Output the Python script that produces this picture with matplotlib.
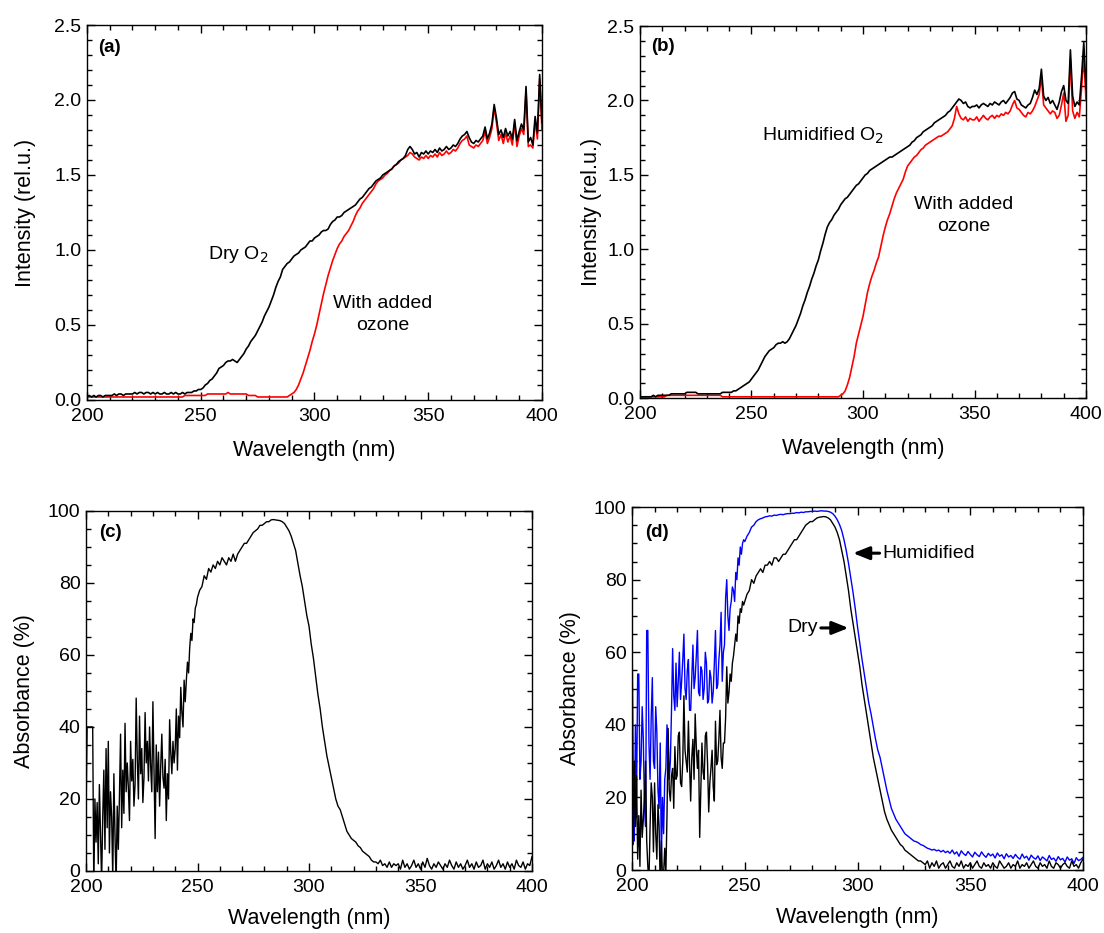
import numpy as np
import matplotlib
matplotlib.use("Agg")
import matplotlib.pyplot as plt
from matplotlib.ticker import MultipleLocator, FormatStrFormatter

plt.rcParams['font.family'] = ['Liberation Sans', 'DejaVu Sans']

# Wavelength grids (nm)
wavelength = np.arange(200, 401)            # 1 nm step, intensity spectra
wl_short = np.arange(200, 250, 0.5)         # 0.5 nm step, noisy deep-UV part
wl_long = np.arange(250, 401)               # 1 nm step, rest of absorbance
wl_abs = np.concatenate([wl_short, wl_long])

# (a) lamp spectrum through dry O2, without and with ozone
dry_o2 = [
    0.02, 0.03, 0.02, 0.03, 0.02, 0.03, 0.03, 0.02, 0.03, 0.03,
    0.03, 0.03, 0.04, 0.03, 0.04, 0.04, 0.03, 0.04, 0.04, 0.04,
    0.04, 0.05, 0.04, 0.05, 0.05, 0.04, 0.05, 0.05, 0.04, 0.05,
    0.04, 0.05, 0.04, 0.04, 0.05, 0.04, 0.04, 0.05, 0.04, 0.05,
    0.04, 0.04, 0.05, 0.04, 0.05, 0.05, 0.05, 0.06, 0.06, 0.07,
    0.07, 0.08, 0.10, 0.11, 0.13, 0.14, 0.16, 0.18, 0.21, 0.22,
    0.23, 0.25, 0.26, 0.26, 0.27, 0.26, 0.25, 0.27, 0.29, 0.31,
    0.34, 0.36, 0.39, 0.41, 0.43, 0.46, 0.49, 0.52, 0.56, 0.59,
    0.62, 0.66, 0.70, 0.75, 0.79, 0.82, 0.87, 0.89, 0.91, 0.92,
    0.94, 0.96, 0.97, 0.98, 1.00, 1.01, 1.02, 1.04, 1.06, 1.06,
    1.08, 1.09, 1.10, 1.12, 1.13, 1.13, 1.14, 1.17, 1.19, 1.20,
    1.22, 1.22, 1.23, 1.25, 1.26, 1.27, 1.28, 1.29, 1.30, 1.32,
    1.34, 1.35, 1.37, 1.39, 1.41, 1.42, 1.44, 1.46, 1.47, 1.48,
    1.50, 1.51, 1.52, 1.53, 1.54, 1.56, 1.57, 1.59, 1.60, 1.61,
    1.63, 1.67, 1.69, 1.67, 1.64, 1.65, 1.62, 1.65, 1.64, 1.66,
    1.64, 1.66, 1.65, 1.67, 1.65, 1.68, 1.66, 1.67, 1.69, 1.67,
    1.68, 1.70, 1.69, 1.71, 1.74, 1.76, 1.77, 1.79, 1.75, 1.72,
    1.71, 1.73, 1.72, 1.74, 1.76, 1.82, 1.74, 1.78, 1.84, 1.97,
    1.88, 1.77, 1.80, 1.75, 1.81, 1.76, 1.79, 1.74, 1.87, 1.73,
    1.79, 1.84, 1.80, 2.09, 1.72, 1.75, 1.70, 1.89, 1.78, 2.17,
    1.85,
]
dry_o2_ozone = [
    0.02, 0.02, 0.02, 0.02, 0.02, 0.02, 0.02, 0.02, 0.02, 0.02,
    0.02, 0.02, 0.02, 0.02, 0.02, 0.02, 0.02, 0.02, 0.02, 0.02,
    0.02, 0.02, 0.02, 0.02, 0.02, 0.02, 0.02, 0.02, 0.02, 0.02,
    0.02, 0.02, 0.02, 0.02, 0.02, 0.02, 0.02, 0.02, 0.02, 0.02,
    0.02, 0.02, 0.02, 0.03, 0.03, 0.03, 0.03, 0.03, 0.03, 0.03,
    0.03, 0.03, 0.03, 0.04, 0.04, 0.04, 0.04, 0.04, 0.04, 0.04,
    0.04, 0.04, 0.05, 0.04, 0.04, 0.04, 0.04, 0.04, 0.04, 0.04,
    0.04, 0.03, 0.03, 0.03, 0.03, 0.02, 0.02, 0.02, 0.02, 0.02,
    0.02, 0.02, 0.02, 0.02, 0.02, 0.02, 0.02, 0.02, 0.02, 0.03,
    0.04, 0.05, 0.07, 0.10, 0.14, 0.18, 0.23, 0.28, 0.33, 0.39,
    0.44, 0.50, 0.57, 0.64, 0.71, 0.77, 0.83, 0.88, 0.93, 0.97,
    1.01, 1.04, 1.06, 1.09, 1.11, 1.13, 1.16, 1.19, 1.23, 1.26,
    1.28, 1.31, 1.33, 1.35, 1.37, 1.39, 1.41, 1.44, 1.46, 1.47,
    1.48, 1.50, 1.51, 1.53, 1.54, 1.56, 1.57, 1.58, 1.60, 1.61,
    1.62, 1.63, 1.65, 1.64, 1.62, 1.61, 1.60, 1.62, 1.61, 1.63,
    1.61, 1.63, 1.62, 1.64, 1.62, 1.65, 1.63, 1.64, 1.66, 1.64,
    1.65, 1.67, 1.66, 1.68, 1.71, 1.73, 1.74, 1.76, 1.70, 1.69,
    1.68, 1.70, 1.69, 1.71, 1.73, 1.79, 1.71, 1.75, 1.81, 1.95,
    1.85, 1.73, 1.77, 1.71, 1.78, 1.72, 1.76, 1.70, 1.85, 1.69,
    1.76, 1.81, 1.77, 2.06, 1.69, 1.70, 1.68, 1.86, 1.74, 2.14,
    1.80,
]

# (b) lamp spectrum through humidified O2, without and with ozone
humid_o2 = [
    0.01, 0.01, 0.01, 0.01, 0.01, 0.01, 0.02, 0.01, 0.02, 0.02,
    0.02, 0.02, 0.02, 0.02, 0.03, 0.03, 0.03, 0.03, 0.03, 0.03,
    0.03, 0.04, 0.04, 0.04, 0.04, 0.04, 0.03, 0.03, 0.03, 0.03,
    0.03, 0.03, 0.03, 0.03, 0.03, 0.03, 0.03, 0.04, 0.04, 0.04,
    0.04, 0.04, 0.05, 0.05, 0.06, 0.07, 0.08, 0.09, 0.10, 0.11,
    0.13, 0.15, 0.17, 0.19, 0.22, 0.25, 0.28, 0.30, 0.32, 0.33,
    0.34, 0.36, 0.37, 0.37, 0.38, 0.37, 0.38, 0.40, 0.43, 0.46,
    0.49, 0.53, 0.57, 0.62, 0.66, 0.71, 0.75, 0.80, 0.84, 0.89,
    0.93, 0.99, 1.04, 1.10, 1.15, 1.18, 1.20, 1.23, 1.25, 1.27,
    1.30, 1.32, 1.34, 1.35, 1.37, 1.39, 1.41, 1.43, 1.44, 1.46,
    1.48, 1.50, 1.51, 1.53, 1.54, 1.55, 1.56, 1.57, 1.58, 1.59,
    1.60, 1.61, 1.62, 1.62, 1.63, 1.64, 1.65, 1.66, 1.67, 1.68,
    1.69, 1.70, 1.72, 1.73, 1.75, 1.76, 1.77, 1.79, 1.80, 1.81,
    1.82, 1.83, 1.85, 1.86, 1.87, 1.88, 1.89, 1.90, 1.92, 1.93,
    1.95, 1.97, 1.99, 2.01, 2.00, 1.98, 1.99, 1.96, 1.95, 1.96,
    1.96, 1.97, 1.95, 1.97, 1.98, 1.97, 1.96, 1.98, 1.97, 1.99,
    1.98, 1.97, 1.99, 2.00, 1.98, 2.00, 2.02, 2.05, 2.06, 2.01,
    2.00, 1.97, 1.96, 1.95, 1.97, 1.98, 2.02, 2.07, 2.04, 2.08,
    2.21, 2.03, 2.00, 2.02, 1.98, 2.00, 1.97, 1.94, 1.99, 2.06,
    2.10, 2.00, 1.98, 2.34, 2.03, 1.96, 1.99, 1.97, 2.16, 2.39,
    2.08,
]
humid_o2_ozone = [
    0.01, 0.01, 0.01, 0.01, 0.01, 0.01, 0.01, 0.01, 0.01, 0.01,
    0.01, 0.01, 0.02, 0.02, 0.02, 0.02, 0.02, 0.02, 0.02, 0.02,
    0.02, 0.02, 0.02, 0.02, 0.02, 0.02, 0.02, 0.02, 0.02, 0.02,
    0.02, 0.02, 0.02, 0.02, 0.02, 0.02, 0.02, 0.01, 0.01, 0.01,
    0.01, 0.01, 0.01, 0.01, 0.01, 0.01, 0.01, 0.01, 0.01, 0.01,
    0.01, 0.01, 0.01, 0.01, 0.01, 0.01, 0.01, 0.01, 0.01, 0.01,
    0.01, 0.01, 0.01, 0.01, 0.01, 0.01, 0.01, 0.01, 0.01, 0.01,
    0.01, 0.01, 0.01, 0.01, 0.01, 0.01, 0.01, 0.01, 0.01, 0.01,
    0.01, 0.01, 0.01, 0.01, 0.01, 0.01, 0.01, 0.01, 0.01, 0.01,
    0.02, 0.03, 0.05, 0.09, 0.14, 0.21, 0.28, 0.37, 0.43, 0.49,
    0.55, 0.63, 0.71, 0.77, 0.82, 0.86, 0.91, 0.95, 1.02, 1.09,
    1.15, 1.20, 1.24, 1.29, 1.34, 1.38, 1.41, 1.44, 1.47, 1.52,
    1.56, 1.58, 1.60, 1.62, 1.63, 1.65, 1.67, 1.68, 1.70, 1.71,
    1.72, 1.73, 1.74, 1.75, 1.76, 1.76, 1.77, 1.78, 1.79, 1.81,
    1.83, 1.88, 1.96, 1.91, 1.88, 1.87, 1.89, 1.86, 1.88, 1.87,
    1.87, 1.89, 1.86, 1.88, 1.90, 1.88, 1.87, 1.89, 1.90, 1.88,
    1.90, 1.89, 1.91, 1.90, 1.92, 1.91, 1.93, 1.97, 2.00, 1.95,
    1.94, 1.92, 1.90, 1.89, 1.92, 1.91, 1.93, 1.96, 2.00, 2.04,
    2.16, 1.97, 1.95, 1.93, 1.91, 1.93, 1.92, 1.88, 1.90, 1.97,
    2.05, 1.86, 1.90, 2.28, 1.93, 1.88, 1.92, 1.89, 2.08, 2.30,
    2.00,
]

# (c) ozone absorbance in dry O2 (%): 200-249.5 nm, then 250-400 nm
absorb_dry_c_short = [
    15, 40, 40, 40, 40, 40, 40, -5, 20, 8,
    19, 2, 24, 10, -3, 15, 28, 6, 34, 12,
    36, 5, 22, 15, -2, 27, 10, -4, 18, 6,
    21, 38, 12, 28, 16, 41, 22, 30, 23, 14,
    36, 25, 31, 18, 24, 48, 31, 20, 43, 27,
    34, 19, 26, 44, 30, 36, 25, 40, 29, 22,
    47, 28, 9, 35, 22, 33, 18, 29, 38, 26,
    23, 31, 14, 27, 20, 42, 33, 27, 36, 30,
    34, 45, 28, 43, 37, 51, 44, 40, 53, 47,
    53, 58, 55, 62, 66, 64, 70, 69, 73, 74,
]
absorb_dry_c_long = [
    76, 78, 79, 82, 81, 84, 83, 85, 84, 86,
    85, 87, 86, 85, 87, 86, 88, 86, 88, 89,
    90, 91, 91, 92, 93, 94, 94.5, 95, 96, 96,
    96.5, 97, 97, 97.5, 97.6, 97.5, 97.4, 97.3, 97, 96.5,
    95.5, 94.5, 93, 91, 89, 85.5, 82, 79, 75, 71,
    68, 63, 59, 54, 49, 45, 40, 36, 32, 29,
    26, 23, 20, 18, 17, 15, 13, 11, 10, 9,
    8.5, 8, 7, 6.5, 5.5, 5, 4.5, 4, 3, 2.5,
    2.5, 2, 3, 1.5, 2, 1, 2.5, 1, 2, 1.5,
    2, 0.5, 3, 1, 2, 0.5, 1.5, 3, 1, 2,
    0.5, 2.5, 1, 3.5, 1.5, 0.5, 2, 1, 2.5, 1.5,
    0.5, 2, 1, 3, 1.5, 0.5, 2.5, 1, 2, 0.5,
    1.5, 3, 1, 2, 0.5, 2.5, 1, 1.5, 3, 0.5,
    2, 1, 2.5, 0.5, 1.5, 3, 1, 2, 0.5, 2.5,
    1, 2, 0.5, 3, 1.5, 1, 2.5, 0.5, 2, 1.5,
    4,
]

# (d) ozone absorbance in dry and humidified O2 (%)
absorb_dry_d_short = [
    19, 7, 30, 12, 26, 3, 15, 1, 22, 9,
    14, 20, 30, 8, 1, -3, 12, 24, 20, 5,
    24, 10, 3, 18, 12, -5, 8, -2, -1, 6,
    -1, 15, 39, 22, 19, 26, 28, 17, 34, 25,
    26, 37, 38, 24, 23, 30, 48, 33, 30, 27,
    41, 29, 19, 31, 36, 25, 43, 34, 28, 33,
    9, 22, 35, 27, 25, 37, 38, 29, 16, 24,
    28, 33, 23, 19, 41, 29, 30, 36, 44, 31,
    28, 35, 35, 42, 56, 46, 49, 54, 52, 57,
    59, 62, 65, 63, 70, 68, 72, 71, 74, 73,
]
absorb_dry_d_long = [
    74, 76, 77, 80, 79, 81, 82, 83, 82, 84,
    84, 85, 84, 86, 86, 85, 86, 87, 87, 88,
    89, 90, 91, 91, 92, 93, 94, 95, 95.5, 96,
    96, 96.5, 97, 97.2, 97.3, 97.4, 97.3, 97, 96.5, 95.5,
    94.5, 93, 91, 88, 85, 81, 77, 72, 68, 64,
    60, 56, 51, 47, 43, 39, 35, 31, 28, 25,
    22, 19, 16, 14, 12.5, 11, 10, 9, 8, 7,
    6.5, 5.5, 5, 4.5, 4, 3.5, 3, 2.5, 2.5, 2,
    1.5, 2.5, 0.5, 2, 1, 2.5, 0.5, 1.5, 2, 0.5,
    1.5, 2.5, 1, 0.5, 2, 1, 2.5, 0.5, 1.5, 1,
    2, 0.5, 1.5, 2.5, 1, 0.5, 2, 1, 1.5, 0.5,
    2, 1, 0.5, 2.5, 1.5, 0.5, 1, 2, 0.5, 1.5,
    1, 2.5, 0.5, 1.5, 1, 2, 0.5, 1.5, 2.5, 1,
    0.5, 2, 1, 1.5, 0.5, 2.5, 1, 0.5, 2, 1.5,
    0.5, 1.5, 2, 1, 0.5, 2.5, 1, 1.5, 0.5, 2,
    3,
]
absorb_humid_d_short = [
    66, 30, 8, 40, 20, 54, 54, 25, 30, 45,
    36, 18, 12, 66, 66, 35, 25, 42, 53, 30,
    28, 45, 38, 22, 17, 35, 3, 20, 10, 25,
    28, 40, 36, 25, 30, 44, 61, 48, 44, 57,
    45, 52, 60, 47, 52, 58, 65, 50, 47, 55,
    58, 44, 44, 53, 62, 50, 53, 59, 66, 49,
    48, 56, 55, 47, 50, 60, 57, 46, 47, 55,
    53, 46, 49, 57, 66, 50, 51, 58, 62, 71,
    52, 60, 62, 75, 80, 70, 66, 72, 74, 78,
    77, 74, 82, 80, 86, 84, 89, 87, 90, 91,
]
absorb_humid_d_long = [
    90.5, 92, 93, 94.5, 95, 96, 96.5, 96.8, 97, 97.3,
    97.4, 97.6, 97.5, 97.8, 97.7, 97.9, 98, 97.9, 98.1, 98.2,
    98.2, 98.3, 98.3, 98.5, 98.4, 98.6, 98.5, 98.7, 98.7, 98.8,
    98.8, 98.9, 98.8, 98.9, 99, 98.9, 98.9, 98.8, 98.6, 98.2,
    97.5, 96.5, 95.2, 93.5, 91, 88, 84.5, 80.5, 76.5, 72,
    67, 62.5, 58, 54, 50, 46, 43, 39.5, 36, 33,
    31, 28, 25, 22, 19.5, 17, 15.5, 14, 13, 12,
    11, 10, 9.5, 9, 8.5, 8, 7.8, 7.5, 7, 6.8,
    6.4, 6, 5.8, 5.5, 5.7, 5.3, 5.5, 5.0, 5.4, 4.8,
    5.2, 4.6, 5.5, 4.4, 5.0, 3.8, 5.3, 4.5, 4.0, 5.1,
    4.3, 3.6, 4.9, 4.2, 3.7, 5.0, 4.1, 3.5, 4.6, 3.9,
    4.4, 3.3, 4.7, 3.8, 4.2, 3.1, 4.5, 3.6, 4.0, 3.2,
    4.3, 3.5, 3.0, 4.4, 3.3, 3.8, 2.7, 4.1, 3.4, 3.0,
    3.9, 2.6, 3.6, 3.1, 2.5, 4.0, 2.9, 3.3, 2.4, 3.7,
    2.8, 3.2, 2.2, 3.6, 2.7, 3.1, 1.8, 3.4, 2.6, 2.9,
    3.5,
]

absorb_dry_c = absorb_dry_c_short + absorb_dry_c_long
absorb_dry_d = absorb_dry_d_short + absorb_dry_d_long
absorb_humid_d = absorb_humid_d_short + absorb_humid_d_long

TICK_FS = 14
LABEL_FS = 15.5
NOTE_FS = 14
PANEL_FS = 13.5
LW_INT = 1.2
LW_ABS = 1.0

fig = plt.figure(figsize=(11.04, 9.33), dpi=100)
ax_a = fig.add_axes([0.0788, 0.5713, 0.4121, 0.4019])
ax_b = fig.add_axes([0.5797, 0.5731, 0.4040, 0.3990])
ax_c = fig.add_axes([0.0779, 0.0665, 0.4040, 0.3859])
ax_d = fig.add_axes([0.5725, 0.0675, 0.4085, 0.3890])


def style_axes(ax, ymax, ymajor, yminor, yfmt, ylabel, ypad, xpad):
    ax.set_xlim(200, 400)
    ax.set_ylim(0, ymax)
    ax.xaxis.set_major_locator(MultipleLocator(50))
    ax.xaxis.set_minor_locator(MultipleLocator(10))
    ax.yaxis.set_major_locator(MultipleLocator(ymajor))
    ax.yaxis.set_minor_locator(MultipleLocator(yminor))
    ax.yaxis.set_major_formatter(FormatStrFormatter(yfmt))
    ax.tick_params(which='both', direction='in', top=True, right=True,
                   labelsize=TICK_FS, width=1.0)
    ax.tick_params(axis='x', pad=5.5)
    ax.tick_params(axis='y', pad=4)
    ax.tick_params(which='major', length=6)
    ax.tick_params(which='minor', length=3.5)
    for s in ax.spines.values():
        s.set_linewidth(1.0)
    ax.set_xlabel('Wavelength (nm)', fontsize=LABEL_FS, labelpad=xpad)
    ax.set_ylabel(ylabel, fontsize=LABEL_FS, labelpad=ypad)


# (a)
ax_a.plot(wavelength, dry_o2_ozone, color='#ff0000', lw=LW_INT)
ax_a.plot(wavelength, dry_o2, color='black', lw=LW_INT)
style_axes(ax_a, 2.5, 0.5, 0.1, '%.1f', 'Intensity (rel.u.)', 13, 11)
ax_a.text(0.025, 0.94, '(a)', transform=ax_a.transAxes, fontsize=PANEL_FS,
          fontweight='bold', ha='left', va='center')
ax_a.text(253, 0.97, 'Dry O$_2$', fontsize=NOTE_FS, ha='left', va='center')
ax_a.text(330, 0.57, 'With added\nozone', fontsize=NOTE_FS, ha='center',
          va='center', linespacing=1.4)

# (b)
ax_b.plot(wavelength, humid_o2_ozone, color='#ff0000', lw=LW_INT)
ax_b.plot(wavelength, humid_o2, color='black', lw=LW_INT)
style_axes(ax_b, 2.5, 0.5, 0.1, '%.1f', 'Intensity (rel.u.)', 4, 11)
ax_b.text(0.025, 0.945, '(b)', transform=ax_b.transAxes, fontsize=PANEL_FS,
          fontweight='bold', ha='left', va='center')
ax_b.text(254.5, 1.76, 'Humidified O$_2$', fontsize=NOTE_FS, ha='left',
          va='center')
ax_b.text(345, 1.23, 'With added\nozone', fontsize=NOTE_FS, ha='center',
          va='center', linespacing=1.4)

# (c)
ax_c.plot(wl_abs, absorb_dry_c, color='black', lw=LW_ABS)
style_axes(ax_c, 100, 20, 5, '%d', 'Absorbance (%)', 9, 9)
ax_c.text(0.03, 0.94, '(c)', transform=ax_c.transAxes, fontsize=PANEL_FS,
          fontweight='bold', ha='left', va='center')

# (d)
ax_d.plot(wl_abs, absorb_humid_d, color='#0000ff', lw=LW_ABS)
ax_d.plot(wl_abs, absorb_dry_d, color='black', lw=LW_ABS)
style_axes(ax_d, 100, 20, 5, '%d', 'Absorbance (%)', 9, 9)
ax_d.text(0.03, 0.93, '(d)', transform=ax_d.transAxes, fontsize=PANEL_FS,
          fontweight='bold', ha='left', va='center')
arrow = dict(arrowstyle='-|>,head_length=0.7,head_width=0.28', lw=2.2,
             color='black', shrinkA=0, shrinkB=0)
ax_d.annotate('Humidified', xy=(298, 87.3), xytext=(311, 87.3),
              fontsize=NOTE_FS, ha='left', va='center', arrowprops=arrow)
ax_d.annotate('Dry', xy=(296, 66.7), xytext=(282.5, 66.7),
              fontsize=NOTE_FS, ha='right', va='center', arrowprops=arrow)

fig.savefig('out.png', dpi=100)
